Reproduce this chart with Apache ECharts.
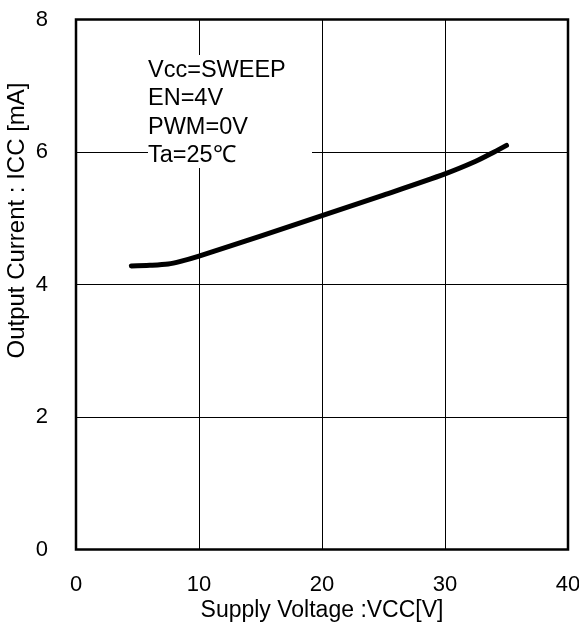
<!DOCTYPE html>
<html>
<head>
<meta charset="utf-8">
<script src="https://cdn.jsdelivr.net/npm/echarts@6/dist/echarts.min.js"></script>
<style>html,body{margin:0;padding:0;background:#fff}#c{width:579px;height:628px}</style>
</head>
<body>
<div id="c"></div>
<script>
const vccValues = [4.5, 6, 7.5, 8.5, 10, 15, 20, 25, 30, 32.5, 34, 35];
const iccValues = [4.28, 4.29, 4.31, 4.35, 4.43, 4.73, 5.04, 5.35, 5.67, 5.86, 6.0, 6.1];
const xTicks = [0, 10, 20, 30, 40];
const yTicks = [0, 2, 4, 6, 8];
const conditionLines = ['Vcc=SWEEP', 'EN=4V', 'PWM=0V', 'Ta=25℃'];

const font = 'Liberation Sans, Arial, sans-serif';
const chart = echarts.init(document.getElementById('c'));
chart.setOption({
  animation: false,
  backgroundColor: '#fff',
  grid: { left: 76, top: 19.5, right: 11, bottom: 78.5, show: true, borderColor: '#000', borderWidth: 2.5, backgroundColor: 'transparent', containLabel: false, outerBoundsMode: 'none' },
  xAxis: {
    type: 'value', min: xTicks[0], max: xTicks[xTicks.length - 1], interval: 10,
    name: 'Supply Voltage :VCC[V]', nameLocation: 'middle', nameGap: 50, nameMoveOverlap: false,
    nameTextStyle: { fontFamily: font, fontSize: 23, color: '#000' },
    axisLine: { show: false }, axisTick: { show: false },
    axisLabel: { fontFamily: font, fontSize: 22, color: '#000', margin: 24 },
    splitLine: { show: true, lineStyle: { color: '#000', width: 1 } }
  },
  yAxis: {
    type: 'value', min: yTicks[0], max: yTicks[yTicks.length - 1], interval: 2,
    name: 'Output Current : ICC [mA]', nameLocation: 'middle', nameGap: 47, nameMoveOverlap: false,
    nameTextStyle: { fontFamily: font, fontSize: 24, color: '#000', padding: [0, 0, 0, 128] },
    axisLine: { show: false }, axisTick: { show: false },
    axisLabel: { fontFamily: font, fontSize: 22, color: '#000', margin: 28 },
    splitLine: { show: true, lineStyle: { color: '#000', width: 1 } }
  },
  series: [{
    type: 'line', data: vccValues.map((v, i) => [v, iccValues[i]]),
    smooth: 0.3, showSymbol: false,
    lineStyle: { color: '#000', width: 5, cap: 'round', join: 'round' },
    z: 3
  }],
  graphic: [
    { type: 'rect', shape: { x: 148, y: 55, width: 164, height: 113 }, style: { fill: '#fff' }, z: 10 },
    { type: 'text', x: 148, y: 56, z: 11, style: { text: conditionLines.join('\n'), fontFamily: font, fontSize: 23.5, lineHeight: 28.5, fill: '#000', verticalAlign: 'top' } }
  ]
});
</script>
</body>
</html>
